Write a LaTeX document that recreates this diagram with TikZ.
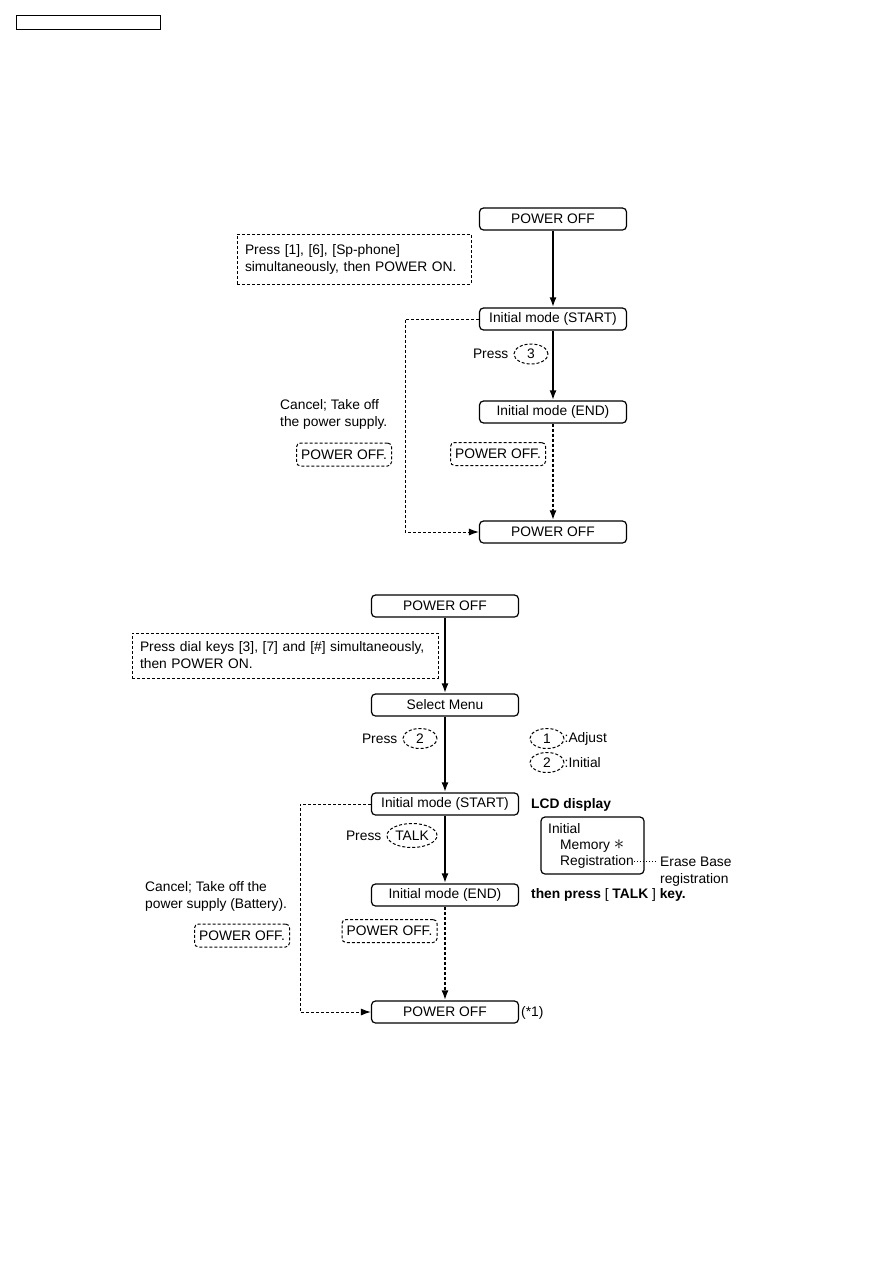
\documentclass[tikz,border=0pt]{standalone}
\usepackage{fontspec}
\setmainfont{Liberation Sans}
\usetikzlibrary{arrows.meta,shapes.geometric}
\begin{document}
\begin{tikzpicture}[x=1pt,y=-1pt,
  every node/.style={font=\fontsize{13.8}{17}\selectfont, inner sep=0pt},
  box/.style={draw, rounded corners=4pt, line width=1.2pt, minimum width=147pt, minimum height=22pt},
  note/.style={draw, dash pattern=on 3pt off 2pt, line width=1pt, align=left},
  dbox/.style={draw, dash pattern=on 3pt off 2pt, line width=1pt, rounded corners=4pt, minimum height=23pt, minimum width=95pt},
  keyel/.style={draw, ellipse, dash pattern=on 3pt off 2pt, line width=1pt, minimum width=34pt, minimum height=20pt},
  solidarr/.style={line width=2pt, -{Latex[length=10pt,width=7pt]}},
  dasharr/.style={line width=2pt, dash pattern=on 3pt off 2pt, -{Latex[length=10pt,width=7pt]}},
  thinarr/.style={line width=1pt, dash pattern=on 3pt off 2pt, -{Latex[length=10pt,width=7pt]}},
  boldtxt/.style={font=\fontsize{13.8}{17}\selectfont\bfseries}
]
\useasboundingbox (0,0) rectangle (893,1263);
\fill[white] (0,0) rectangle (893,1263);

% header box
\node[draw, line width=1pt, minimum width=144pt, minimum height=14pt] (hdr) at (88,23) {};

% ---------- top diagram ----------
\node[box] (a1) at (553,219) {POWER OFF};
\node[note, minimum width=234pt, minimum height=50pt, text width=218pt] (n1) at (354,259)
  {Press [1], [6], [Sp-phone]\\simultaneously, then POWER ON.};
\node[box] (a2) at (553,319) {Initial mode (START)};
\node[keyel] (k3) at (531,354) {3};
\node[anchor=east] (p3) at ([xshift=-5pt]k3.west) {Press};
\node[box] (a3) at (553,412) {Initial mode (END)};
\node[anchor=base west, align=left] (c1) at (280,426) {Cancel; Take off\\the power supply.};
\node[dbox] (d1) at (344,454.5) {POWER OFF.};
\node[dbox] (d2) at (498,454) {POWER OFF.};
\node[box] (a4) at (553,532) {POWER OFF};
\coordinate (t1) at (405,319);
\coordinate (t2) at (405,532);

\draw[solidarr] (a1) -- (a2);
\draw[solidarr] (a2) -- (a3);
\draw[dasharr] (a3) -- (a4);
\draw[thinarr] (a2.west) -- (t1) -- (t2) -- (a4.west);

% ---------- bottom diagram ----------
\node[box] (b1) at (445,606) {POWER OFF};
\node[note, minimum width=306pt, minimum height=45pt, text width=290pt] (n2) at (285,655.5)
  {Press dial keys [3], [7] and [\#] simultaneously,\\then POWER ON.};
\node[box] (b2) at (445,705) {Select Menu};
\node[keyel] (k2) at (420,738.5) {2};
\node[anchor=east] (p2) at ([xshift=-5pt]k2.west) {Press};
\node[keyel] (m1) at (547,738.5) {1};
\node[anchor=west] (m1t) at (m1.east) {:Adjust};
\node[keyel] (m2) at (547,762.5) {2};
\node[anchor=west] (m2t) at (m2.east) {:Initial};
\node[box] (b3) at (445,804) {Initial mode (START)};
\node[boldtxt, anchor=west] (lcdt) at (531,805) {LCD display};
\node[keyel, minimum width=50pt, minimum height=24pt] (kt) at (412,835.5) {TALK};
\node[anchor=east] (pt) at ([xshift=-5pt]kt.west) {Press};
\node[draw, rounded corners=4pt, line width=1.2pt, minimum width=103pt, minimum height=57pt] (lcd) at (592.5,845.5) {};
\node[anchor=base west] (l1) at (548,833) {Initial};
\node[anchor=base west] (l2) at (560,849) {Memory {\fontsize{22}{22}\selectfont$\ast$}};
\node[anchor=base west] (reg) at (560,865) {Registration};
\node[anchor=base west, align=left] (erase) at (660,883) {Erase Base\\registration};
\draw[line width=1pt, dotted] (reg.east) -- ([xshift=-3pt]reg.east -| erase.west);
\node[box] (b4) at (445,895) {Initial mode (END)};
\node[anchor=west] (then) at (531,895) {\textbf{then press} [ \textbf{TALK} ] \textbf{key.}};
\node[anchor=base west, align=left] (c2) at (145,908) {Cancel; Take off the\\power supply (Battery).};
\node[dbox] (d3) at (242,935.5) {POWER OFF.};
\node[dbox] (d4) at (389.5,931) {POWER OFF.};
\node[box] (b5) at (445,1012) {POWER OFF};
\node[anchor=west] (s1) at (521,1013) {(*1)};
\coordinate (u1) at (300,804);
\coordinate (u2) at (300,1012);

\draw[solidarr] (b1) -- (b2);
\draw[solidarr] (b2) -- (b3);
\draw[solidarr] (b3) -- (b4);
\draw[dasharr] (b4) -- (b5);
\draw[thinarr] (b3.west) -- (u1) -- (u2) -- (b5.west);
\end{tikzpicture}
\end{document}
